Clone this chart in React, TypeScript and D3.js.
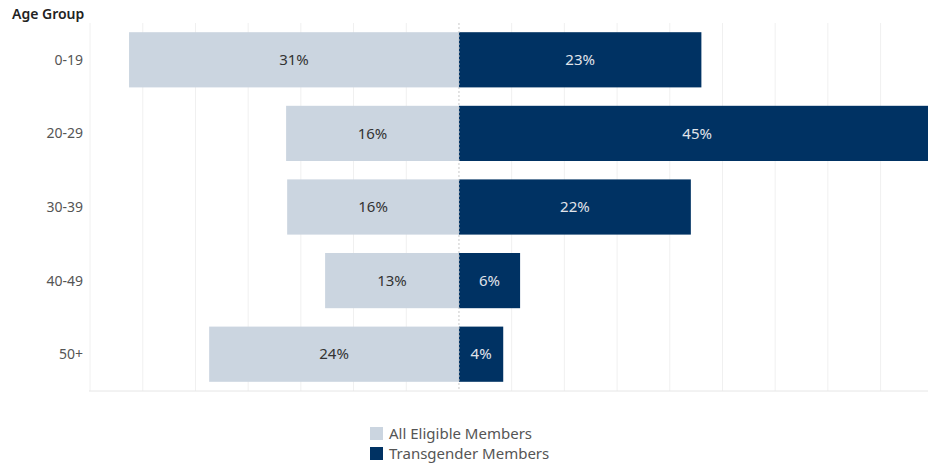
import React from "react";
import * as d3 from "d3";

const ageGroups = ["0-19", "20-29", "30-39", "40-49", "50+"];
const allEligible = [31.3, 16.4, 16.3, 12.7, 23.7];
const transgender = [23.0, 45.2, 22.0, 5.8, 4.2];
const seriesNames = ["All Eligible Members", "Transgender Members"];
const gridTicks = [-35, -30, -25, -20, -15, -10, -5, 0, 5, 10, 15, 20, 25, 30, 35, 40];

const W = 928;
const H = 466;
const FONT = "'Noto Sans', 'Open Sans', sans-serif";
const LIGHT = "#cbd5e0";
const DARK = "#003263";

export default function App() {
  const x = d3.scaleLinear().domain([-35.1, 44.5]).range([89, 928]);
  const y = d3.scaleBand().domain(ageGroups).range([23, 391]).paddingInner(0.25).paddingOuter(0.125);
  const fmt = (v: number) => `${Math.round(v)}%`;
  const x0 = x(0);

  return (
    <svg width={W} height={H} style={{ position: "absolute", left: 0, top: 0, fontFamily: FONT }}>
      <rect width={W} height={H} fill="#fff" />
      {gridTicks.filter((t) => t !== 0).map((t) => (
        <line key={t} x1={x(t)} x2={x(t)} y1={23} y2={391} stroke="#f0f0f0" strokeWidth={1} />
      ))}
      <line x1={89} x2={928} y1={391} y2={391} stroke="#e6e6e6" strokeWidth={1} />
      {ageGroups.map((g, i) => {
        const yy = y(g)!;
        const bh = y.bandwidth();
        const lx = x(-allEligible[i]);
        const rx = Math.min(x(transgender[i]), 928);
        const rFull = x(transgender[i]);
        return (
          <g key={g}>
            <rect x={lx} y={yy} width={x0 - lx} height={bh} fill={LIGHT} />
            <rect x={x0} y={yy} width={rx - x0} height={bh} fill={DARK} />
            <text x={(lx + x0) / 2} y={yy + bh / 2} dy="0.35em" textAnchor="middle" fontSize={15} fill="#333">
              {fmt(allEligible[i])}
            </text>
            <text x={(x0 + rFull) / 2} y={yy + bh / 2} dy="0.35em" textAnchor="middle" fontSize={15} fill="#e0e4ea">
              {fmt(transgender[i])}
            </text>
            <text x={83} y={yy + bh / 2} dy="0.35em" textAnchor="end" fontSize={14} fill="#555">
              {g}
            </text>
          </g>
        );
      })}
      <line x1={x0} x2={x0} y1={23} y2={391} stroke="#c8c8c8" strokeWidth={1} strokeDasharray="2,2" />
      <text x={12} y={19} fontSize={14} fill="#222" fontWeight={600}>Age Group</text>
      {seriesNames.map((s, i) => (
        <g key={s} transform={`translate(370, ${427 + i * 20})`}>
          <rect x={0} y={0} width={13} height={13} fill={i === 0 ? LIGHT : DARK} />
          <text x={19} y={7} dy="0.35em" fontSize={15} fill="#555">{s}</text>
        </g>
      ))}
    </svg>
  );
}
